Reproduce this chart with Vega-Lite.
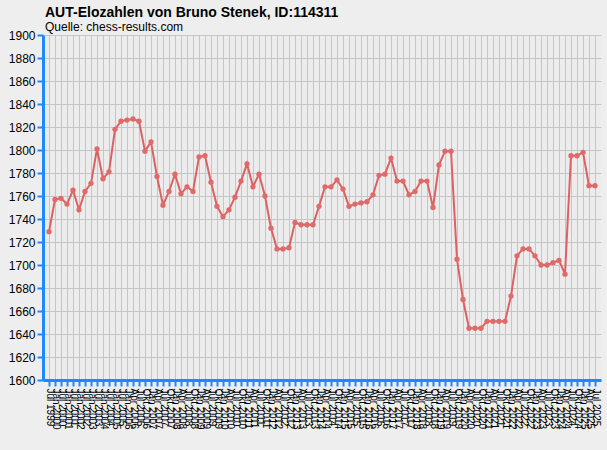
{
  "$schema": "https://vega.github.io/schema/vega-lite/v6.json",
  "width": 558,
  "height": 345,
  "autosize": "none",
  "padding": {"left": 43, "top": 35, "right": 6, "bottom": 70},
  "background": "#eeeeee",
  "title": {
    "text": "AUT-Elozahlen von Bruno Stenek, ID:114311",
    "subtitle": "Quelle: chess-results.com",
    "anchor": "start",
    "frame": "group",
    "dx": 2,
    "offset": -4,
    "font": "Liberation Sans",
    "fontSize": 14,
    "fontWeight": "bold",
    "color": "black",
    "subtitleFont": "Liberation Sans",
    "subtitleFontSize": 12,
    "subtitleColor": "black",
    "subtitlePadding": 2
  },
  "data": {
    "values": [
      {"Liste": "Jul 1999", "Elo": 1729},
      {"Liste": "Jan 2000", "Elo": 1757},
      {"Liste": "Jul 2000", "Elo": 1758},
      {"Liste": "Jan 2001", "Elo": 1753},
      {"Liste": "Jul 2001", "Elo": 1765},
      {"Liste": "Jan 2002", "Elo": 1748},
      {"Liste": "Jul 2002", "Elo": 1764},
      {"Liste": "Jan 2003", "Elo": 1771},
      {"Liste": "Jul 2003", "Elo": 1801},
      {"Liste": "Jan 2004", "Elo": 1775},
      {"Liste": "Jul 2004", "Elo": 1781},
      {"Liste": "Jan 2005", "Elo": 1818},
      {"Liste": "Jul 2005", "Elo": 1825},
      {"Liste": "Jan 2006", "Elo": 1826},
      {"Liste": "Apr 2006", "Elo": 1827},
      {"Liste": "Jul 2006", "Elo": 1825},
      {"Liste": "Okt 2006", "Elo": 1799},
      {"Liste": "Jan 2007", "Elo": 1807},
      {"Liste": "Apr 2007", "Elo": 1777},
      {"Liste": "Jul 2007", "Elo": 1752},
      {"Liste": "Okt 2007", "Elo": 1764},
      {"Liste": "Jan 2008", "Elo": 1779},
      {"Liste": "Apr 2008", "Elo": 1762},
      {"Liste": "Jul 2008", "Elo": 1768},
      {"Liste": "Okt 2008", "Elo": 1764},
      {"Liste": "Jan 2009", "Elo": 1794},
      {"Liste": "Apr 2009", "Elo": 1795},
      {"Liste": "Jul 2009", "Elo": 1772},
      {"Liste": "Okt 2009", "Elo": 1751},
      {"Liste": "Jan 2010", "Elo": 1742},
      {"Liste": "Apr 2010", "Elo": 1748},
      {"Liste": "Jul 2010", "Elo": 1759},
      {"Liste": "Okt 2010", "Elo": 1773},
      {"Liste": "Jan 2011", "Elo": 1788},
      {"Liste": "Apr 2011", "Elo": 1768},
      {"Liste": "Jul 2011", "Elo": 1779},
      {"Liste": "Okt 2011", "Elo": 1760},
      {"Liste": "Jan 2012", "Elo": 1732},
      {"Liste": "Apr 2012", "Elo": 1714},
      {"Liste": "Jul 2012", "Elo": 1714},
      {"Liste": "Okt 2012", "Elo": 1715},
      {"Liste": "Jan 2013", "Elo": 1737},
      {"Liste": "Apr 2013", "Elo": 1735},
      {"Liste": "Jul 2013", "Elo": 1735},
      {"Liste": "Okt 2013", "Elo": 1735},
      {"Liste": "Jan 2014", "Elo": 1751},
      {"Liste": "Apr 2014", "Elo": 1768},
      {"Liste": "Jul 2014", "Elo": 1768},
      {"Liste": "Okt 2014", "Elo": 1774},
      {"Liste": "Jan 2015", "Elo": 1766},
      {"Liste": "Apr 2015", "Elo": 1751},
      {"Liste": "Jul 2015", "Elo": 1753},
      {"Liste": "Okt 2015", "Elo": 1754},
      {"Liste": "Jan 2016", "Elo": 1755},
      {"Liste": "Apr 2016", "Elo": 1761},
      {"Liste": "Jul 2016", "Elo": 1778},
      {"Liste": "Okt 2016", "Elo": 1779},
      {"Liste": "Jan 2017", "Elo": 1793},
      {"Liste": "Apr 2017", "Elo": 1773},
      {"Liste": "Jul 2017", "Elo": 1773},
      {"Liste": "Okt 2017", "Elo": 1761},
      {"Liste": "Jan 2018", "Elo": 1764},
      {"Liste": "Apr 2018", "Elo": 1773},
      {"Liste": "Jul 2018", "Elo": 1773},
      {"Liste": "Okt 2018", "Elo": 1750},
      {"Liste": "Jan 2019", "Elo": 1787},
      {"Liste": "Apr 2019", "Elo": 1799},
      {"Liste": "Jul 2019", "Elo": 1799},
      {"Liste": "Okt 2019", "Elo": 1705},
      {"Liste": "Jan 2020", "Elo": 1670},
      {"Liste": "Apr 2020", "Elo": 1645},
      {"Liste": "Jul 2020", "Elo": 1645},
      {"Liste": "Okt 2020", "Elo": 1645},
      {"Liste": "Jan 2021", "Elo": 1651},
      {"Liste": "Apr 2021", "Elo": 1651},
      {"Liste": "Jul 2021", "Elo": 1651},
      {"Liste": "Okt 2021", "Elo": 1651},
      {"Liste": "Jan 2022", "Elo": 1673},
      {"Liste": "Apr 2022", "Elo": 1708},
      {"Liste": "Jul 2022", "Elo": 1714},
      {"Liste": "Okt 2022", "Elo": 1714},
      {"Liste": "Jan 2023", "Elo": 1708},
      {"Liste": "Apr 2023", "Elo": 1700},
      {"Liste": "Jul 2023", "Elo": 1700},
      {"Liste": "Okt 2023", "Elo": 1702},
      {"Liste": "Jan 2024", "Elo": 1704},
      {"Liste": "Apr 2024", "Elo": 1692},
      {"Liste": "Jul 2024", "Elo": 1795},
      {"Liste": "Okt 2024", "Elo": 1795},
      {"Liste": "Jan 2025", "Elo": 1798},
      {"Liste": "Apr 2025", "Elo": 1769},
      {"Liste": "Jul 2025", "Elo": 1769}
    ]
  },
  "mark": {
    "type": "line",
    "color": "#dc6262",
    "strokeWidth": 2,
    "point": {"filled": true, "size": 28, "color": "#e06a6a"}
  },
  "encoding": {
    "x": {
      "field": "Liste",
      "type": "ordinal",
      "sort": null,
      "scale": {"type": "point", "padding": 1},
      "title": null,
      "axis": {
        "labelAngle": 90,
        "labelAlign": "left",
        "labelBaseline": "middle",
        "labelFontSize": 10,
        "labelPadding": 2,
        "labelOverlap": false,
        "grid": true
      }
    },
    "y": {
      "field": "Elo",
      "type": "quantitative",
      "scale": {"domain": [1600, 1900], "nice": false, "zero": false},
      "title": null,
      "axis": {
        "values": [1600, 1620, 1640, 1660, 1680, 1700, 1720, 1740, 1760, 1780, 1800, 1820, 1840, 1860, 1880, 1900],
        "format": "d",
        "labelFontSize": 12,
        "labelPadding": 2,
        "grid": true
      }
    }
  },
  "config": {
    "view": {"fill": "#ececec", "stroke": null},
    "axis": {
      "labelFont": "Liberation Sans",
      "labelColor": "black",
      "domainColor": "#1e88ff",
      "domainWidth": 3,
      "tickColor": "#1e88ff",
      "tickWidth": 2,
      "tickSize": 6,
      "gridColor": "#c6c6c6",
      "gridWidth": 1
    }
  }
}
